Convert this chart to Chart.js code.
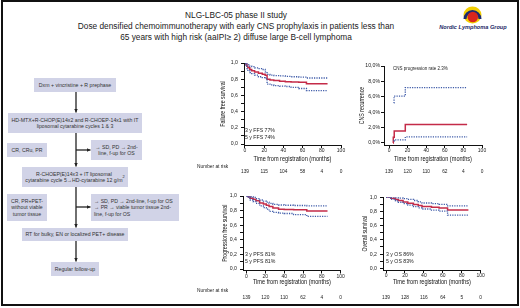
<!DOCTYPE html>
<html>
<head>
<meta charset="utf-8">
<title>NLG-LBC-05</title>
<script src="https://cdn.jsdelivr.net/npm/chart.js@4.4.1/dist/chart.umd.min.js"></script>
<style>
  html, body { margin: 0; padding: 0; background: #fff; }
  #page { position: relative; width: 520px; height: 308px; overflow: hidden;
          font-family: "Liberation Sans", Arial, sans-serif; color: #222; }
  #cadre { position: absolute; left: 1px; top: 0; width: 514px; height: 302px; border: 2px solid #111; }
  #titre { position: absolute; left: 0; top: 9.5px; width: 472px; text-align: center;
           font-size: 8.3px; line-height: 11px; color: #1a1a1a; }
  .boite { position: absolute; background: #d1d3e7; font-size: 5.2px; line-height: 6.3px; color: #333;
           display: flex; align-items: center; justify-content: center; text-align: center;
           box-sizing: border-box; padding: 0 2px; }
  .boite.gauche { justify-content: flex-start; text-align: left; padding-left: 3px; }
  #fleches { position: absolute; left: 0; top: 0; }
  canvas { position: absolute; }
</style>
</head>
<body>
<div id="page">
  <div id="cadre"></div>

  <div id="titre">NLG-LBC-05 phase II study<br>
    Dose densified chemoimmunotherapy with early CNS prophylaxis in patients less than<br>
    65 years with high risk (aaIPI≥ 2) diffuse large B-cell lymphoma</div>

  <!-- Schéma de traitement -->
  <div class="boite" style="left:34px;top:78px;width:82px;height:14px">Dxm + vincristine + R prephase</div>
  <div class="boite" style="left:8px;top:113px;width:134px;height:20px">HD-MTX+R-CHOP(E)14x2 and R-CHOEP-14x1 with IT<br>liposomal cytarabine cycles 1 &amp; 3</div>
  <div class="boite" style="left:7px;top:143px;width:40px;height:14px">CR, CRu, PR</div>
  <div class="boite" style="left:91px;top:140px;width:51px;height:20px">→ SD, PD → 2nd-<br>line, f-up for OS</div>
  <div class="boite" style="left:22px;top:167px;width:106px;height:20px">R-CHOEP(E)14x3 + IT liposomal<br>cytarabine cycle 5→HD-cytarabine 12 g/m<sup style="font-size:4px;line-height:0">2</sup></div>
  <div class="boite" style="left:7px;top:194px;width:40px;height:27px">CR, PR+PET-<br>without viable<br>tumor tissue</div>
  <div class="boite gauche" style="left:91px;top:194px;width:88px;height:27px">→ SD, PD → 2nd-line, f-up for OS<br>→ PR → viable tumor tissue 2nd-<br>line, f-up for OS</div>
  <div class="boite" style="left:22px;top:228px;width:106px;height:13px">RT for bulky, EN or localized PET+ disease</div>
  <div class="boite" style="left:51px;top:262px;width:48px;height:14px">Regular follow-up</div>

  <svg id="fleches" width="520" height="308">
    <defs>
      <marker id="pointe" markerWidth="4" markerHeight="4" refX="4" refY="2" orient="auto" markerUnits="userSpaceOnUse">
        <path d="M0,0 L4,2 L0,4 z" fill="#222"/>
      </marker>
    </defs>
    <g stroke="#222" stroke-width="1.3" marker-end="url(#pointe)">
      <line x1="76" y1="92" x2="76" y2="112.5"/>
      <line x1="76" y1="133" x2="76" y2="166.5"/>
      <line x1="76" y1="150" x2="90.5" y2="150"/>
      <line x1="76" y1="187" x2="76" y2="227.5"/>
      <line x1="76" y1="207" x2="90.5" y2="207"/>
      <line x1="76" y1="241" x2="76" y2="261.5"/>
    </g>
    <!-- logo Nordic Lymphoma Group -->
    <ellipse cx="472.5" cy="15" rx="9" ry="8.5" fill="#f3cf00"/>
    <path d="M465,19 A7.5,7.5 0 1 1 480,19" fill="none" stroke="#1c2a6e" stroke-width="3"/>
    <circle cx="472.8" cy="17" r="5.3" fill="#d8261c"/>
    <text x="473" y="29.3" text-anchor="middle" font-family="Liberation Sans, Arial, sans-serif"
          font-size="5.6" font-weight="bold" font-style="italic" fill="#1b2766">Nordic Lymphoma Group</text>
  </svg>

  <canvas id="km-ffs"></canvas>
  <canvas id="km-cns"></canvas>
  <canvas id="km-pfs"></canvas>
  <canvas id="km-os"></canvas>
</div>

<script>
/* ── Données ────────────────────────────────────────────── */
const moisRisque         = [0, 20, 40, 60, 80, 100];
const ticksMois          = [0, 20, 40, 60, 80, 100];
const ticksSurvie        = [0, 0.2, 0.4, 0.6, 0.8, 1.0];
const ticksSurvieMineurs = [0.1, 0.3, 0.5, 0.7, 0.9];
const ticksCns           = [0, 2, 4, 6, 8, 10];

/* Failure free survival */
const ffsMois   = [0, 1, 2, 3, 5, 7, 10, 14, 18, 21, 23, 26, 30, 36, 42, 48, 56, 64, 86];
const ffsEstim  = [1, .98, .96, .94, .92, .905, .89, .875, .86, .85, .80, .79, .785, .775, .77, .765, .762, .745, .745];
const ffsHaut   = [1, 1, .99, .98, .96, .955, .94, .93, .92, .89, .86, .85, .845, .84, .835, .83, .825, .815, .815];
const ffsBas    = [1, .96, .93, .91, .88, .87, .85, .83, .82, .81, .74, .73, .72, .715, .71, .70, .685, .66, .66];
const ffsRisque = [139, 115, 104, 58, 4, 0];

/* CNS recurrence (%) */
const cnsMois      = [4.3, 4.6, 5.6, 17.5, 84];
const cnsEstim     = [0, .75, 1.55, 2.4, 2.4];
const cnsMoisIC    = [5.2, 5.4, 17.5, 84];
const cnsHaut      = [5.2, 6.1, 7.2, 7.2];
const cnsBas       = [.25, .4, .8, .8];
const cnsRisque    = [139, 120, 110, 62, 4, 0];

/* Progression free survival */
const pfsMois   = [0, 2, 4, 7, 10, 14, 18, 21, 24, 28, 34, 40, 50, 64, 86];
const pfsEstim  = [1, .985, .97, .955, .935, .905, .89, .875, .855, .835, .82, .815, .81, .795, .795];
const pfsHaut   = [1, 1, .99, .98, .965, .945, .93, .915, .90, .885, .877, .873, .87, .865, .865];
const pfsBas    = [1, .97, .945, .925, .90, .865, .84, .82, .79, .775, .765, .76, .745, .72, .72];
const pfsRisque = [139, 120, 110, 62, 4, 0];

/* Overall survival */
const osMois   = [0, 5, 10, 13, 18, 23, 29, 34, 38, 48, 56, 65, 87];
const osEstim  = [1, .985, .97, .955, .935, .915, .90, .885, .87, .86, .85, .82, .82];
const osHaut   = [1, 1, .995, .99, .98, .97, .955, .935, .92, .91, .90, .88, .88];
const osBas    = [1, .97, .95, .93, .91, .89, .87, .85, .835, .82, .805, .75, .75];
const osRisque = [139, 128, 116, 64, 5, 0];

/* ── Style commun ──────────────────────────────────────── */
const ROUGE  = '#c42b48';
const BLEU   = '#3d5aa8';

Chart.defaults.font.family = '"Liberation Sans", Arial, sans-serif';
Chart.defaults.color       = '#222';

const points = (mois, valeurs) => mois.map((m, i) => ({ x: m, y: valeurs[i] }));

function courbe(data, couleur, pointille) {
  return {
    data,
    borderColor : couleur,
    borderWidth : pointille ? 1.3 : 1.5,
    borderDash  : pointille ? [1.2, 1.2] : [],
    stepped     : true,
    pointRadius : 0,
    fill        : false,
  };
}

const virgule = (v, n) => v.toFixed(n).replace('.', ',');

/* Texte condensé (pas de police « narrow » installée) */
function texteEtroit(ctx, texte, x, y, angle, taille) {
  ctx.save();
  ctx.translate(x, y);
  ctx.rotate(angle);
  ctx.scale(0.8, 1);
  ctx.font         = taille + 'px "Liberation Sans", sans-serif';
  ctx.fillStyle    = '#111';
  ctx.textAlign    = 'center';
  ctx.textBaseline = 'middle';
  ctx.fillText(texte, 0, 0);
  ctx.restore();
}

/* Titres d'axes, nombre à risque et textes dans le graphique */
const pluginTextes = {
  id: 'textes',
  afterDraw(chart, args, o) {
    const ctx  = chart.ctx;
    const ax   = chart.scales.x;
    const zone = chart.chartArea;

    texteEtroit(ctx, 'Time from registration (months)', (zone.left + zone.right) / 2, o.titreXY, 0, 7);
    texteEtroit(ctx, o.titreY, o.titreYX, (zone.top + zone.bottom) / 2, -Math.PI / 2, 6.5);

    ctx.save();
    ctx.fillStyle    = '#222';
    ctx.textBaseline = 'middle';
    ctx.font         = '4.8px "Liberation Sans", sans-serif';
    ctx.textAlign    = 'center';
    o.risque.forEach((n, i) => ctx.fillText(String(n), ax.getPixelForValue(moisRisque[i]), o.risqueY));
    ctx.textAlign = 'left';
    if (o.libelle) ctx.fillText('Number at risk', o.libelle[0], o.libelle[1]);
    ctx.font = o.police;
    o.notes.forEach(([t, x, y]) => ctx.fillText(t, x, y));
    ctx.restore();
  },
};

/* ── Construction d'une courbe de Kaplan-Meier ─────────── */
function graphiqueKM(id, g, jeux, axeY, textes) {
  const cv = document.getElementById(id);
  cv.width  = g.cr - g.cl;
  cv.height = g.cb - g.ct;
  cv.style.left = g.cl + 'px';
  cv.style.top  = g.ct + 'px';
  const dx = g.cl, dy = g.ct;

  const grille = { drawOnChartArea: false, drawTicks: true, tickLength: 3, color: '#111', lineWidth: 1 };
  const bord   = { display: true, color: '#111', width: 1 };

  return new Chart(cv, {
    type: 'line',
    data: { datasets: jeux },
    options: {
      responsive: false,
      animation : false,
      events    : [],
      layout    : { padding: { left: 0, top: g.T - dy, right: g.cr - g.R, bottom: g.cb - g.B - g.xh } },
      plugins: {
        legend : { display: false },
        tooltip: { enabled: false },
        textes : {
          titreY : axeY.titre,
          titreYX: g.yTitre - dx,
          titreXY: g.xTitre - dy,
          risque : textes.risque,
          risqueY: textes.risqueY - dy,
          libelle: textes.libelle ? [textes.libelle[0] - dx, textes.libelle[1] - dy] : null,
          police : textes.police,
          notes  : textes.notes.map(([t, x, y]) => [t, x - dx, y - dy]),
        },
      },
      scales: {
        x: {
          type: 'linear', min: g.xMin, max: 100,
          afterBuildTicks: s => { s.ticks = ticksMois.map(v => ({ value: v })); },
          afterFit       : s => { s.height = g.xh; },
          grid  : grille,
          border: bord,
          ticks : { autoSkip: false, maxRotation: 0, padding: 0, font: { size: 5 }, color: '#222' },
        },
        y: {
          min: g.yMin, max: axeY.max,
          afterBuildTicks: s => { s.ticks = axeY.ticks.map(v => ({ value: v })); },
          afterFit       : s => { s.width = g.L - g.cl; },
          grid  : grille,
          border: bord,
          ticks : { autoSkip: false, padding: g.yPad, font: { size: 5.2 }, color: '#222', callback: axeY.format },
        },
      },
    },
    plugins: [pluginTextes],
  });
}

/* Axes Y */
const tousTicksSurvie = [...ticksSurvie, ...ticksSurvieMineurs].sort((a, b) => a - b);
const formatSurvie = v => ticksSurvie.includes(v) ? virgule(v, 1) : '';
const axeSurvie = titre => ({ max: 1, ticks: tousTicksSurvie, format: formatSurvie, titre });

/* ── Les quatre graphiques ─────────────────────────────── */
graphiqueKM('km-ffs',
  { cl: 195, ct: 55, cr: 350, cb: 178, L: 244, T: 63, R: 341, B: 145, xh: 19,
    xMin: -1.04, yMin: -0.0123, yPad: 3, yTitre: 223, xTitre: 159.5 },
  [courbe(points(ffsMois, ffsHaut), BLEU, true),
   courbe(points(ffsMois, ffsBas), BLEU, true),
   courbe(points(ffsMois, ffsEstim), ROUGE, false)],
  axeSurvie('Failure free survival'),
  { risque: ffsRisque, risqueY: 172, libelle: [197, 167], police: '5.2px "Liberation Sans", sans-serif',
    notes: [['3 y FFS 77%', 245, 131], ['5 y FFS 74%', 245, 138]] });

graphiqueKM('km-cns',
  { cl: 340, ct: 58, cr: 490, cb: 178, L: 384, T: 66, R: 482, B: 145, xh: 19,
    xMin: -5.4, yMin: -0.26, yPad: 1, yTitre: 362, xTitre: 159.5 },
  [courbe(points(cnsMoisIC, cnsHaut), BLEU, true),
   courbe(points(cnsMoisIC, cnsBas), BLEU, true),
   courbe(points(cnsMois, cnsEstim), ROUGE, false)],
  { max: 10, ticks: ticksCns, format: v => virgule(v, 1) + '%', titre: 'CNS recurrence' },
  { risque: cnsRisque, risqueY: 172, libelle: null, police: '4.5px "Liberation Sans", sans-serif',
    notes: [['CNS progression rate 2.3%', 393, 69]] });

graphiqueKM('km-pfs',
  { cl: 195, ct: 188, cr: 350, cb: 304, L: 243, T: 196, R: 340.7, B: 270.5, xh: 16.5,
    xMin: -3.7, yMin: -0.0205, yPad: 3, yTitre: 225, xTitre: 282.3 },
  [courbe(points(pfsMois, pfsHaut), BLEU, true),
   courbe(points(pfsMois, pfsBas), BLEU, true),
   courbe(points(pfsMois, pfsEstim), ROUGE, false)],
  axeSurvie('Progression free survival'),
  { risque: pfsRisque, risqueY: 298, libelle: [197, 291], police: '5.2px "Liberation Sans", sans-serif',
    notes: [['3 y PFS 81%', 245, 254.5], ['5 y PFS 81%', 245, 261.5]] });

graphiqueKM('km-os',
  { cl: 340, ct: 189, cr: 490, cb: 304, L: 383, T: 197.3, R: 480.7, B: 270, xh: 16.5,
    xMin: -3.2, yMin: -0.024, yPad: 3, yTitre: 365, xTitre: 282.3 },
  [courbe(points(osMois, osHaut), BLEU, true),
   courbe(points(osMois, osBas), BLEU, true),
   courbe(points(osMois, osEstim), ROUGE, false)],
  axeSurvie('Overall survival'),
  { risque: osRisque, risqueY: 298, libelle: null, police: '5.2px "Liberation Sans", sans-serif',
    notes: [['3 y OS 86%', 386, 255], ['5 y OS 83%', 386, 262]] });
</script>
</body>
</html>
